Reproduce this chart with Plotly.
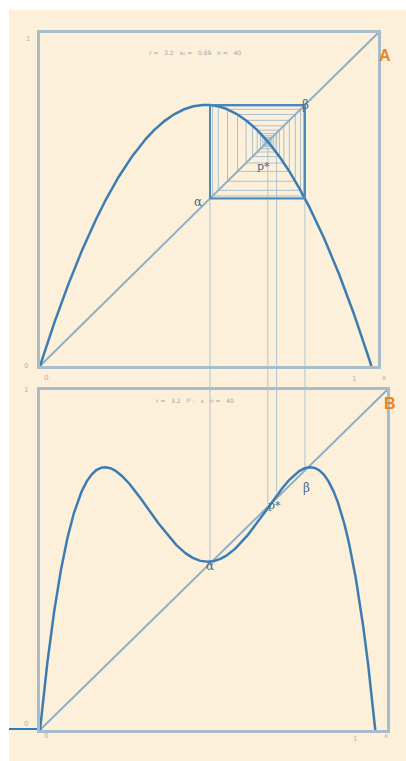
import numpy as np
import plotly.graph_objects as go

# Logistic map parameter and the cobweb start
R = 3.2
X_START = 0.6935
N_STEPS = 40

# Points of interest (fixed point and the stable 2-cycle)
P_STAR = 1 - 1 / R
ALPHA = ((R + 1) - np.sqrt((R - 3) * (R + 1))) / (2 * R)
BETA = ((R + 1) + np.sqrt((R - 3) * (R + 1))) / (2 * R)
EXTRA_MARK = 0.714

W, H = 406, 761
CREAM = "#FDF0DA"
CURVE = "#3B7DB3"
BOX = "#4A88BC"
DIAG = "#8FAFC4"
FRAME = "#A7BDCC"
WEB = "#A8C1D1"
GUIDE = "#B4C3CE"
TEXT = "#4A6A86"
ORANGE = "#E8861C"


def f(x):
    return R * x * (1 - x)


def px(v):
    return v / W


def py(v):
    return 1 - v / H


xs = np.linspace(0, 1, 3000)

# cobweb orbit
orbit = [X_START]
for _ in range(N_STEPS):
    orbit.append(f(orbit[-1]))
web_x, web_y = [orbit[0]], [orbit[0]]
for a, b in zip(orbit[:-1], orbit[1:]):
    web_x += [a, b]
    web_y += [b, b]

A_MAX = 1.02
B_MAX = 1.035

fig = go.Figure()

# panel A: map, diagonal, cobweb
fig.add_trace(go.Scatter(x=web_x, y=web_y, mode="lines", line=dict(color=WEB, width=1),
                         xaxis="x", yaxis="y", hoverinfo="skip"))
fig.add_trace(go.Scatter(x=[0, A_MAX], y=[0, A_MAX], mode="lines", line=dict(color=DIAG, width=2),
                         xaxis="x", yaxis="y"))
fig.add_trace(go.Scatter(x=xs, y=f(xs), mode="lines", line=dict(color=CURVE, width=2.5),
                         xaxis="x", yaxis="y"))
# 2-cycle box
fig.add_trace(go.Scatter(x=[ALPHA, ALPHA, BETA, BETA, ALPHA], y=[ALPHA, BETA, BETA, ALPHA, ALPHA],
                         mode="lines", line=dict(color=BOX, width=2), xaxis="x", yaxis="y"))

# panel B: second iterate
fig.add_trace(go.Scatter(x=[0, B_MAX], y=[0, B_MAX], mode="lines", line=dict(color=DIAG, width=2),
                         xaxis="x2", yaxis="y2"))
fig.add_trace(go.Scatter(x=xs, y=f(f(xs)), mode="lines", line=dict(color=CURVE, width=2.5),
                         xaxis="x2", yaxis="y2"))

shapes = [
    dict(type="rect", xref="paper", yref="paper", x0=px(9), x1=1, y0=0, y1=py(10),
         fillcolor=CREAM, line=dict(width=0), layer="below"),
    dict(type="line", xref="paper", yref="paper", x0=px(9), x1=px(37), y0=py(729), y1=py(729),
         line=dict(color="#2A7FC0", width=2)),
]
# guides dropping from panel A into panel B
for xv, ytop, ybot in [(ALPHA, BETA, f(f(ALPHA))), (P_STAR, P_STAR, P_STAR),
                       (EXTRA_MARK, EXTRA_MARK, f(f(EXTRA_MARK))), (BETA, BETA, f(f(BETA)))]:
    y_top_px = 366 - ytop / A_MAX * 333
    y_bot_px = 730 - ybot / B_MAX * 340
    shapes.append(dict(type="line", xref="x", yref="paper", x0=xv, x1=xv,
                       y0=py(y_top_px), y1=py(y_bot_px), line=dict(color=GUIDE, width=1),
                       layer="below"))

ann = []


def label(x, y, t, size=12, color=TEXT, family="DejaVu Serif", bold=False):
    ann.append(dict(x=px(x), y=py(y), xref="paper", yref="paper", text=f"<b>{t}</b>" if bold else t,
                    showarrow=False, font=dict(size=size, color=color, family=family)))


label(198, 193, "α")
label(311, 96, "β")
label(263, 158, "p*", size=11)
label(210, 575, "α")
label(283, 514, "p*", size=11)
label(312, 488, "β")
label(393, 45, "A", size=16, color=ORANGE, family="Liberation Sans", bold=True)
label(398, 404, "B", size=16, color=ORANGE, family="Liberation Sans", bold=True)

# faint axis labels
for (x, y, t) in [(24, 33, "1"), (22, 366, "0"), (42, 378, "0"), (358, 379, "1"), (388, 378, "x"),
                  (22, 390, "1"), (22, 730, "0"), (42, 742, "0"), (359, 745, "1"), (390, 742, "x")]:
    label(x, y, t, size=7, color="#A9B3BA", family="DejaVu Sans")
label(195, 47, "r =   3.2   x₀ =   0.69   n =   40", size=6, color="#9AA6AE", family="DejaVu Sans")
label(195, 400, "r =   3.2   f² :   x   n =   40", size=6, color="#9AA6AE", family="DejaVu Sans")

axis_common = dict(showgrid=False, zeroline=False, showticklabels=False, ticks="",
                   showline=True, mirror=True, linecolor=FRAME, linewidth=2.5)

fig.update_layout(
    width=W, height=H, margin=dict(l=0, r=0, t=0, b=0),
    paper_bgcolor="white", plot_bgcolor="rgba(0,0,0,0)", showlegend=False,
    xaxis=dict(domain=[px(40), px(378)], range=[0, A_MAX], anchor="y", **axis_common),
    yaxis=dict(domain=[py(366), py(33)], range=[0, A_MAX], anchor="x", **axis_common),
    xaxis2=dict(domain=[px(40), px(387)], range=[0, B_MAX], anchor="y2", **axis_common),
    yaxis2=dict(domain=[py(730), py(390)], range=[0, B_MAX], anchor="x2", **axis_common),
    shapes=shapes, annotations=ann,
)

fig.write_html("out.html")
